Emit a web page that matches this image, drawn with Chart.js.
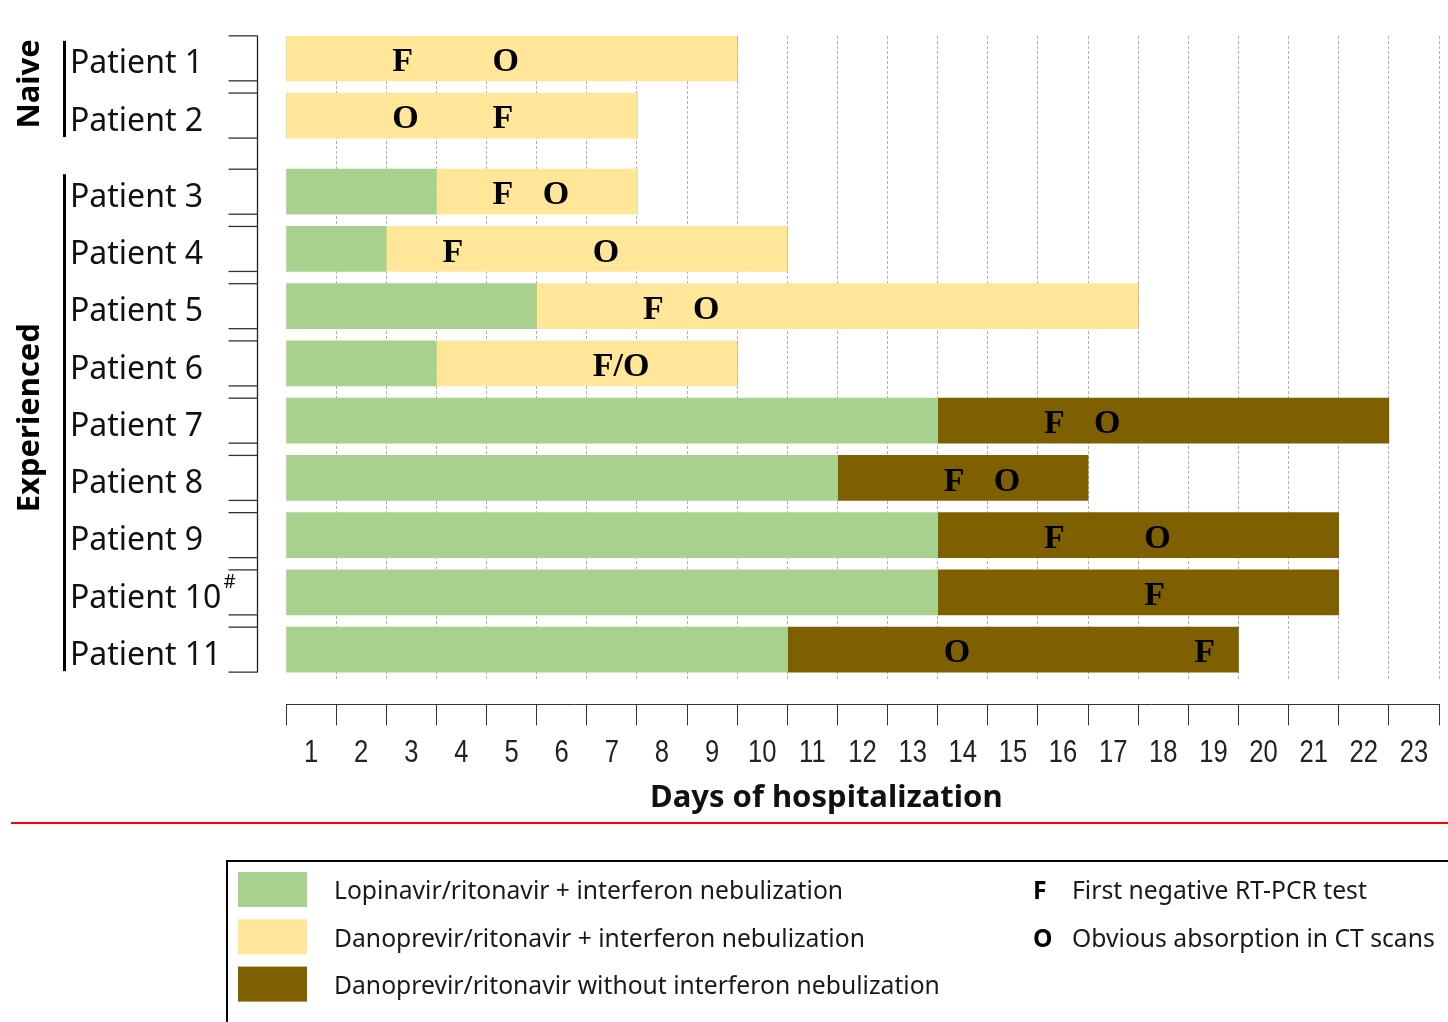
<!DOCTYPE html>
<html>
<head>
<meta charset="utf-8">
<script src="https://cdn.jsdelivr.net/npm/chart.js@4.4.1/dist/chart.umd.min.js"></script>
<style>
html,body{margin:0;padding:0;background:#fff}
#wrap{width:1448px;height:1022px;position:relative}
</style>
</head>
<body>
<div id="wrap"><canvas id="c"></canvas></div>
<script>
// ---------------- data ----------------
const patients = ['Patient 1','Patient 2','Patient 3','Patient 4','Patient 5','Patient 6',
                  'Patient 7','Patient 8','Patient 9','Patient 10','Patient 11'];
const patientNotes = ['','','','','','','','','','#',''];
const groups = ['Naive','Naive','Experienced','Experienced','Experienced','Experienced',
                'Experienced','Experienced','Experienced','Experienced','Experienced'];
// days spent on each regimen (consecutive, starting at day 1)
const lopinavirIfnDays = [0,0,3,2,5,3,13,11,13,13,10];
const danoprevirIfnDays = [9,7,4,8,12,6,0,0,0,0,0];
const danoprevirOnlyDays = [0,0,0,0,0,0,9,5,8,8,9];
// hospital day of events
const firstNegativeDay = [3,5,5,4,8,7,16,14,16,18,19];
const absorptionDay    = [5,3,6,7,9,7,17,15,18,null,14];
const dayLabels = ['1','2','3','4','5','6','7','8','9','10','11','12','13','14','15','16',
                   '17','18','19','20','21','22','23'];
const seriesNames = ['Lopinavir/ritonavir + interferon nebulization',
                     'Danoprevir/ritonavir + interferon nebulization',
                     'Danoprevir/ritonavir without interferon nebulization'];
const markerKeys = ['F','O'];
const markerNames = ['First negative RT-PCR test','Obvious absorption in CT scans'];

// ---------------- layout / style ----------------
const COLORS = ['#a9d18e', '#ffe699', '#7f6000'];
const GROUP_GAP = 0.33;          // extra spacing (in rows) between patient groups
const SANS = '"Noto Sans", "Open Sans", sans-serif';
const ARIAL = '"Liberation Sans", Arial, sans-serif';
const SERIF = '"Liberation Serif", "DejaVu Serif", serif';

const rowPos = [];
(function(){ let g = 0; groups.forEach((grp, i) => { if (i > 0 && grp !== groups[i-1]) g++; rowPos.push(i + g * GROUP_GAP); }); })();

const seriesData = [lopinavirIfnDays, danoprevirIfnDays, danoprevirOnlyDays];
const datasets = seriesData.map((arr, k) => ({
  label: seriesNames[k],
  data: arr.map((v, i) => ({ x: v, y: rowPos[i] })),
  backgroundColor: COLORS[k],
  borderWidth: 0,
  barThickness: 45,
  xAxisID: 'x',
  yAxisID: 'y'
}));

const decor = {
  id: 'decor',
  afterDraw(chart) {
    const { ctx, chartArea: ca, scales } = chart;
    const xs = scales.x, ys = scales.y, x2 = scales.x2;
    const meta = chart.getDatasetMeta(0);
    const rows = meta.data.map(el => ({ y: el.y, top: el.y - el.height / 2, bot: el.y + el.height / 2 }));
    ctx.save();

    // condensed day labels under the x axis
    ctx.fillStyle = '#222'; ctx.textAlign = 'center'; ctx.textBaseline = 'middle';
    ctx.font = '32px ' + ARIAL;
    x2.ticks.forEach((t, i) => {
      ctx.save();
      ctx.translate(x2.getPixelForTick(i), x2.top + 49);
      ctx.scale(0.8, 1);
      ctx.fillText(dayLabels[i], 0, 0);
      ctx.restore();
    });

    // y-axis line and bar-edge ticks
    const axX = Math.round(ca.left - 29) + 0.5;
    ctx.strokeStyle = '#222'; ctx.lineWidth = 1.3;
    ctx.beginPath(); ctx.moveTo(axX, rows[0].top); ctx.lineTo(axX, rows[rows.length - 1].bot); ctx.stroke();
    ctx.strokeStyle = '#333'; ctx.lineWidth = 1.3;
    rows.forEach(r => {
      [r.top, r.bot].forEach(yy => {
        ctx.beginPath(); ctx.moveTo(axX - 29, yy); ctx.lineTo(axX, yy); ctx.stroke();
      });
    });

    // group brackets + rotated group names
    const labelLeft = ys.left;
    let start = 0;
    for (let i = 1; i <= groups.length; i++) {
      if (i === groups.length || groups[i] !== groups[start]) {
        const top = rows[start].top + 5, bot = rows[i - 1].bot - 1;
        ctx.fillStyle = '#000';
        ctx.fillRect(labelLeft - 7, top, 3, bot - top);
        ctx.save();
        ctx.translate(30, (top + bot) / 2 - 5);
        ctx.rotate(-Math.PI / 2);
        ctx.font = 'bold 31px ' + SANS;
        ctx.textAlign = 'center'; ctx.textBaseline = 'middle';
        ctx.fillText(groups[start], 0, 0);
        ctx.restore();
        start = i;
      }
    }

    // superscript notes after patient labels
    patientNotes.forEach((n, i) => {
      if (!n) return;
      ctx.font = '32px ' + SANS;
      const w = ctx.measureText(patients[i]).width;
      ctx.font = '19px ' + SANS;
      ctx.fillStyle = '#111'; ctx.textAlign = 'left'; ctx.textBaseline = 'middle';
      ctx.fillText(n, labelLeft + w + 2, rows[i].y - 10);
    });

    // F / O markers
    ctx.font = 'bold 34px ' + SERIF;
    ctx.fillStyle = '#000'; ctx.textAlign = 'left'; ctx.textBaseline = 'middle';
    patients.forEach((p, i) => {
      const f = firstNegativeDay[i], o = absorptionDay[i];
      const marks = [];
      if (f != null && f === o) marks.push([markerKeys[0] + '/' + markerKeys[1], f]);
      else {
        if (f != null) marks.push([markerKeys[0], f]);
        if (o != null) marks.push([markerKeys[1], o]);
      }
      marks.forEach(([t, d]) => ctx.fillText(t, xs.getPixelForValue(d - 1) + 6, rows[i].y + 4));
    });

    // red separator
    const sepY = x2.bottom + 6;
    ctx.strokeStyle = '#ff0000'; ctx.lineWidth = 2;
    ctx.beginPath(); ctx.moveTo(11, sepY); ctx.lineTo(chart.width, sepY); ctx.stroke();

    // legend box
    const lx = 227, ly = sepY + 38;
    ctx.strokeStyle = '#000'; ctx.lineWidth = 2;
    ctx.strokeRect(lx, ly, 1400, 400);
    ctx.textAlign = 'left'; ctx.textBaseline = 'middle';
    chart.data.datasets.forEach((ds, k) => {
      const yy = ly + 11 + k * 47.3;
      ctx.fillStyle = ds.backgroundColor;
      ctx.fillRect(lx + 11, yy, 69, 35);
      ctx.fillStyle = '#1a1a1a';
      ctx.font = '24.7px ' + SANS;
      ctx.fillText(ds.label, lx + 107, ly + 31 + k * 47.5);
    });
    markerKeys.forEach((m, k) => {
      const yy = ly + 31 + k * 47.5;
      ctx.fillStyle = '#000';
      ctx.font = 'bold 24.7px ' + SANS;
      ctx.fillText(m, lx + 806, yy);
      ctx.fillStyle = '#1a1a1a';
      ctx.font = '24.7px ' + SANS;
      ctx.fillText(markerNames[k], lx + 845, yy);
    });
    ctx.restore();
  }
};

new Chart(document.getElementById('c'), {
  type: 'bar',
  data: { datasets },
  options: {
    indexAxis: 'y',
    responsive: true,
    maintainAspectRatio: false,
    devicePixelRatio: 1,
    animation: false,
    layout: { padding: { left: 70, top: 36, right: 9, bottom: 205 } },
    plugins: { legend: { display: false }, tooltip: { enabled: false } },
    scales: {
      x: {
        type: 'linear', position: 'bottom', stacked: true, min: 0, max: dayLabels.length,
        weight: 0, z: 1,
        afterFit: s => { s.height = 25; },
        ticks: { display: false, stepSize: 1 },
        grid: {
          color: c => (c.tick && c.tick.value === 0) ? 'rgba(0,0,0,0)' : '#b0b0b0',
          lineWidth: 1, drawTicks: false
        },
        border: { display: false, dash: [3, 2] }
      },
      x2: {
        type: 'category', labels: dayLabels, position: 'bottom', offset: true, weight: 1,
        grid: { offset: true, drawOnChartArea: false, color: '#333', tickLength: 21, lineWidth: 1 },
        border: { display: true, color: '#333', width: 1 },
        ticks: { font: { family: ARIAL, size: 32 }, color: 'rgba(0,0,0,0)', padding: 8, maxRotation: 0, autoSkip: false },
        title: {
          display: true, text: 'Days of hospitalization' + '         ',
          font: { family: SANS, size: 31, weight: 'bold' }, color: '#111',
          padding: { top: 0, bottom: 0 }
        }
      },
      y: {
        type: 'linear', reverse: true, stacked: true, offset: false,
        min: -0.39, max: rowPos[rowPos.length - 1] + 0.52,
        afterBuildTicks: s => { s.ticks = rowPos.map(v => ({ value: v })); },
        afterFit: s => { s.width = 216; },
        ticks: {
          callback: (v, i) => patients[i],
          font: { family: SANS, size: 32 }, color: '#111',
          crossAlign: 'far', labelOffset: 6, autoSkip: false, padding: 0
        },
        grid: { display: false },
        border: { display: false }
      }
    }
  },
  plugins: [decor]
});
</script>
</body>
</html>
